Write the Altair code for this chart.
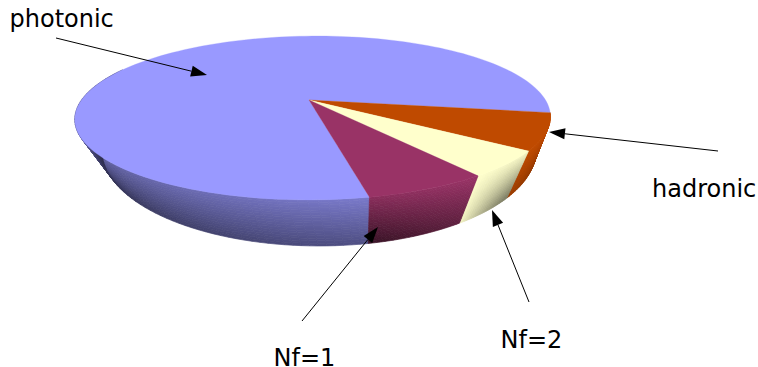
import math
import altair as alt

# Share of each slice in percent, clockwise from the first edge of "hadronic"
SLICE_NAMES = ["hadronic", "Nf=2", "Nf=1", "photonic"]
SLICE_SHARES = [7.2, 5.1, 6.9, 80.8]
SLICE_COLORS = ["#BF4A00", "#FFFFCC", "#993366", "#9999FF"]
START_ANGLE = 9.0

# Rim brightness per slice: top edge at first/last angle, bottom edge at first/last angle
SIDE_SHADES = [
    (1.0, 1.0, 0.72, 0.82),
    (0.95, 1.0, 0.48, 0.95),
    (1.0, 0.90, 0.62, 0.36),
    (0.80, 0.55, 0.52, 0.30),
]

LABEL_TEXT = ["photonic", "hadronic", "Nf=2", "Nf=1"]
LABEL_X = [9.5, 652, 500.5, 273.5]
LABEL_Y = [27, 197, 348, 366]

ARROW_TAIL_X = [56, 718, 529, 302]
ARROW_TAIL_Y = [38, 151, 302, 321]
ARROW_TIP_X = [207, 549, 492, 378]
ARROW_TIP_Y = [75, 132, 210, 227]


def top_rim(deg):
    # Perspective view of the upper disc
    t = math.radians(deg)
    s, c = math.sin(t), math.cos(t)
    w = 1 - 0.2195 * s
    y = 100 + 78 * s / w
    x = 313.5 + 232 * c / w - 0.05 * (y - 100)
    return x, y


def bottom_rim(deg):
    # Perspective view of the lower disc
    t = math.radians(deg)
    s, c = math.sin(t), math.cos(t)
    w = 1 - 0.1 * s
    return 319 + 216 * c / w, 140.4 + 95 * s / w


def shade(color, k):
    r, g, b = (int(color[i:i + 2], 16) for i in (1, 3, 5))
    return "#%02x%02x%02x" % (round(r * k), round(g * k), round(b * k))


def polygon(points, fill):
    ring = [list(p) for p in points] + [list(points[0])]
    return {"type": "Feature", "geometry": {"type": "Polygon", "coordinates": [ring]},
            "properties": {"fill": fill}}


def mix(a, b, v):
    return (a[0] + (b[0] - a[0]) * v, a[1] + (b[1] - a[1]) * v)


edges = [START_ANGLE]
for share in SLICE_SHARES:
    edges.append(edges[-1] + share * 3.6)

# Rim of the pie: thin cells, painted from the back towards the viewer
side_features = []
order = [3, 0, 1, 2]
for i in order:
    a0, a1 = edges[i], edges[i + 1]
    if i == 3:
        a1 = 205.0
    top0, top1, b0, b1 = SIDE_SHADES[i]
    steps_t = max(24, int((a1 - a0) / 2))
    steps_v = 18
    for m in range(steps_t):
        u0, u1 = m / steps_t, (m + 1) / steps_t
        t0, t1 = a0 + (a1 - a0) * u0, a0 + (a1 - a0) * u1
        p0, p1 = top_rim(t0), top_rim(t1)
        q0, q1 = bottom_rim(t0), bottom_rim(t1)
        um = (u0 + u1) / 2
        if i == 3:
            um = min(1.0, um * 1.35)
        elif i == 1:
            um = um ** 1.6
        top = top0 + (top1 - top0) * um
        bottom = b0 + (b1 - b0) * um
        for n in range(steps_v):
            v0, v1 = n / steps_v, (n + 1) / steps_v
            k = top + (bottom - top) * (v0 + v1) / 2
            side_features.append(polygon(
                [mix(p0, q0, v0), mix(p1, q1, v0), mix(p1, q1, v1), mix(p0, q0, v1)],
                shade(SLICE_COLORS[i], k)))

# Upper face: one wedge per slice
APEX = (309, 100)
top_features = []
for i in order:
    a0, a1 = edges[i], edges[i + 1]
    steps = max(8, int((a1 - a0) / 2))
    rim = [top_rim(a0 + (a1 - a0) * j / steps) for j in range(steps + 1)]
    top_features.append(polygon([APEX] + rim, SLICE_COLORS[i]))

# Arrow shafts and heads
shaft_features = []
head_features = []
for tx, ty, hx, hy in zip(ARROW_TAIL_X, ARROW_TAIL_Y, ARROW_TIP_X, ARROW_TIP_Y):
    d = math.hypot(hx - tx, hy - ty)
    ux, uy = (hx - tx) / d, (hy - ty) / d
    bx, by = hx - 16 * ux, hy - 16 * uy
    shaft_features.append({"type": "Feature",
                           "geometry": {"type": "LineString", "coordinates": [[tx, ty], [bx, by]]},
                           "properties": {}})
    head_features.append(polygon([(hx, hy), (bx - 5.5 * uy, by + 5.5 * ux), (bx + 5.5 * uy, by - 5.5 * ux)],
                                 "#000000"))

fill_enc = alt.Color("properties.fill:N", scale=None, legend=None)
stroke_enc = alt.Stroke("properties.fill:N", scale=None, legend=None)

sides = alt.Chart(alt.Data(values=side_features)).mark_geoshape(strokeWidth=0.7).encode(
    color=fill_enc, stroke=stroke_enc)
tops = alt.Chart(alt.Data(values=top_features)).mark_geoshape(strokeWidth=0.3).encode(
    color=fill_enc, stroke=stroke_enc)
shafts = alt.Chart(alt.Data(values=shaft_features)).mark_geoshape(
    filled=False, stroke="#000000", strokeWidth=1)
heads = alt.Chart(alt.Data(values=head_features)).mark_geoshape(strokeWidth=0).encode(color=fill_enc)

labels = alt.Chart(alt.Data(values=[
    {"text": t, "lon": x, "lat": y} for t, x, y in zip(LABEL_TEXT, LABEL_X, LABEL_Y)
])).mark_text(font="DejaVu Sans", fontSize=24, align="left", baseline="alphabetic", color="#000000").encode(
    longitude="lon:Q", latitude="lat:Q", text="text:N")

chart = alt.layer(sides, tops, shafts, heads, labels).project(
    type="identity", scale=1, translate=[0, 0]
).properties(
    width=758, height=367, padding=0, autosize=alt.AutoSizeParams(type="none"), background="white"
).configure_view(stroke=None)

chart.save("out.html", embed_options={"renderer": "svg", "actions": False})
